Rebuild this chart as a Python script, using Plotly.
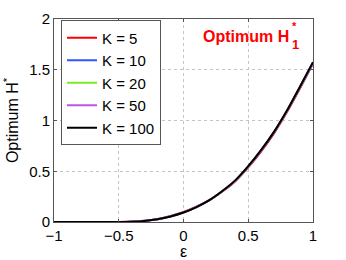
import plotly.graph_objects as go

eps = [-1.0, -0.9, -0.8, -0.7, -0.6, -0.5, -0.4, -0.3, -0.2, -0.1, 0.0,
       0.1, 0.2, 0.3, 0.4, 0.5, 0.6, 0.7, 0.8, 0.9, 1.0]

k_labels = ["K = 5", "K = 10", "K = 20", "K = 50", "K = 100"]
h_k5 = [0, 0, 0, 0, 0, 0.0, 0.004, 0.013, 0.030, 0.059, 0.098, 0.150, 0.215, 0.300, 0.402, 0.538, 0.696, 0.876, 1.086, 1.318, 1.560]
h_k10 = [0, 0, 0, 0, 0, 0.0, 0.0035, 0.012, 0.028, 0.057, 0.095, 0.148, 0.215, 0.303, 0.406, 0.544, 0.703, 0.883, 1.093, 1.326, 1.566]
h_k20 = [0, 0, 0, 0, 0, 0.0, 0.003, 0.011, 0.027, 0.056, 0.094, 0.147, 0.215, 0.304, 0.408, 0.547, 0.707, 0.887, 1.097, 1.330, 1.570]
h_k50 = [0, 0, 0, 0, 0, 0.0, 0.003, 0.011, 0.027, 0.055, 0.093, 0.147, 0.215, 0.305, 0.409, 0.549, 0.709, 0.889, 1.099, 1.334, 1.573]
h_k100 = [0, 0, 0, 0, 0, 0.0, 0.003, 0.011, 0.027, 0.055, 0.093, 0.147, 0.215, 0.305, 0.410, 0.550, 0.710, 0.890, 1.100, 1.335, 1.575]
series = [h_k5, h_k10, h_k20, h_k50, h_k100]
colors = ["#ff0000", "#3355ff", "#77ee22", "#bb55ee", "#000000"]

x_ticks = [-1, -0.5, 0, 0.5, 1]
x_tick_text = ["\u22121", "\u22120.5", "0", "0.5", "1"]
y_ticks = [0, 0.5, 1, 1.5, 2]
y_tick_text = ["0", "0.5", "1", "1.5", "2"]

FONT = "Liberation Sans, Arial, Helvetica, sans-serif"

fig = go.Figure()
for lab, ys, c in zip(k_labels, series, colors):
    fig.add_trace(go.Scatter(x=eps, y=ys, mode="lines", name=lab,
                             line=dict(color=c, width=2, shape="spline", smoothing=0.6)))

axis_common = dict(showline=True, linecolor="#555555", linewidth=1, mirror="ticks",
                   ticks="inside", ticklen=3, tickcolor="#555555", automargin=False,
                   showgrid=True, gridcolor="#c4c4c4", griddash="dot", gridwidth=1,
                   zeroline=False, tickfont=dict(size=15, color="black", family=FONT))

fig.update_layout(
    width=346, height=260,
    margin=dict(l=54, r=33, t=19, b=38),
    paper_bgcolor="white", plot_bgcolor="white",
    font=dict(family=FONT, color="black"),
    xaxis=dict(range=[-1, 1], tickvals=x_ticks, ticktext=x_tick_text,
               title=dict(text="\u03b5", font=dict(size=16), standoff=2), **axis_common),
    yaxis=dict(range=[0, 2], tickvals=y_ticks, ticktext=y_tick_text,
               title=dict(text="Optimum H<sup>*</sup>", font=dict(size=16), standoff=6), **axis_common),
    legend=dict(x=0.027, y=0.993, xanchor="left", yanchor="top",
                bgcolor="white", bordercolor="#555555", borderwidth=1,
                font=dict(size=15, family=FONT), tracegroupgap=0, itemwidth=30),
    showlegend=True,
)

fig.add_annotation(xref="paper", yref="paper", x=0.915, y=0.915, xanchor="right", yanchor="middle",
                   text="<b>Optimum H</b>", showarrow=False,
                   font=dict(size=16, color="#ff0000", family=FONT))
fig.add_annotation(xref="paper", yref="paper", x=0.912, y=0.965, xanchor="left", yanchor="middle",
                   text="<b>*</b>", showarrow=False,
                   font=dict(size=11, color="#ff0000", family=FONT))
fig.add_annotation(xref="paper", yref="paper", x=0.912, y=0.875, xanchor="left", yanchor="middle",
                   text="<b>1</b>", showarrow=False,
                   font=dict(size=13, color="#ff0000", family=FONT))

fig.write_html("out.html", config={"displayModeBar": False},
               post_script="document.body.style.margin='0';document.body.style.overflow='hidden';")
